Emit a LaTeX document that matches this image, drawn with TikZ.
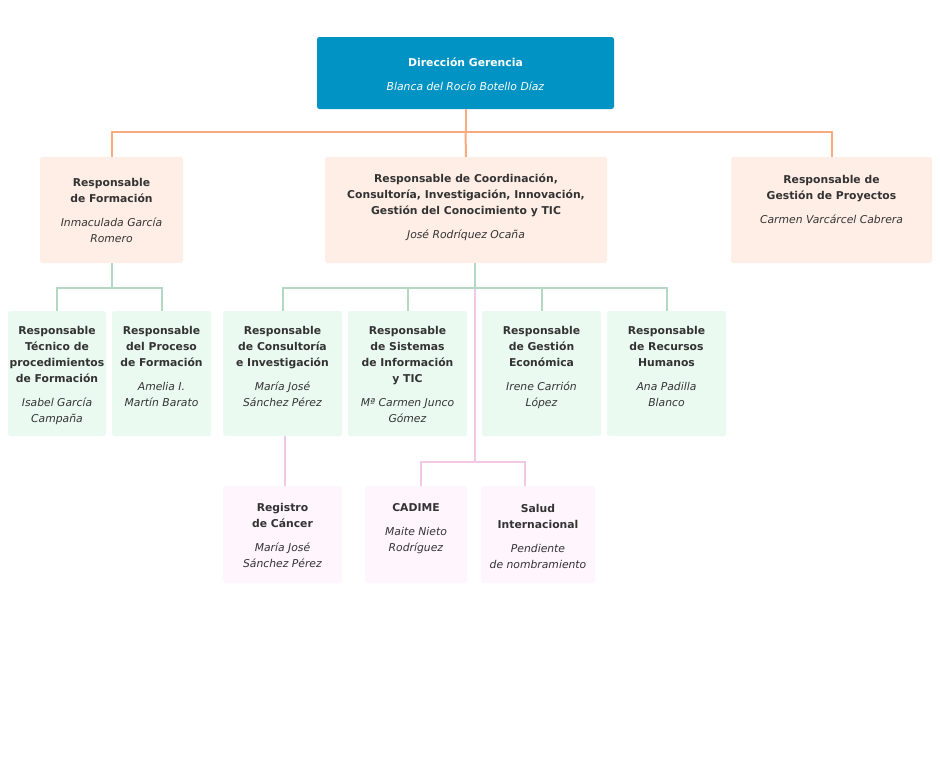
\documentclass[tikz,border=0pt]{standalone}
\usepackage{fontspec}
\setmainfont{DejaVu Sans}
\definecolor{topblue}{RGB}{0,147,196}
\definecolor{peach}{RGB}{255,238,230}
\definecolor{mint}{RGB}{235,250,241}
\definecolor{pinkbg}{RGB}{255,245,253}
\definecolor{oline}{RGB}{250,170,125}
\definecolor{gline}{RGB}{178,216,196}
\definecolor{pline}{RGB}{242,200,232}
\definecolor{txtc}{RGB}{51,51,51}
\tikzset{
  box/.style={draw=none, rounded corners=2.5pt, inner sep=0pt, outer sep=0pt},
  txt/.style={anchor=north, align=center, inner sep=0pt, text=txtc,
    font=\fontsize{10.8}{16}\selectfont},
  orangeline/.style={draw=oline, line width=2pt},
  greenline/.style={draw=gline, line width=2pt},
  pinkline/.style={draw=pline, line width=2pt},
}
\newcommand{\ttl}[1]{\textbf{#1}}
\newcommand{\nm}[1]{\textit{#1}}
\begin{document}
\begin{tikzpicture}[x=1pt,y=-1pt]
\path[use as bounding box, fill=white] (0,0) rectangle (940,772);

% boxes
\node[box, fill=topblue, minimum width=297pt, minimum height=72pt] (top) at (465.5,73) {};
\node[box, fill=peach, minimum width=143pt, minimum height=106pt] (A) at (111.5,210) {};
\node[box, fill=peach, minimum width=282pt, minimum height=106pt] (B) at (466,210) {};
\node[box, fill=peach, minimum width=201pt, minimum height=106pt] (C) at (831.5,210) {};
\node[box, fill=mint, minimum width=98pt, minimum height=125pt] (D1) at (57,373.5) {};
\node[box, fill=mint, minimum width=99pt, minimum height=125pt] (D2) at (161.5,373.5) {};
\node[box, fill=mint, minimum width=119pt, minimum height=125pt] (E1) at (282.5,373.5) {};
\node[box, fill=mint, minimum width=119pt, minimum height=125pt] (E2) at (407.5,373.5) {};
\node[box, fill=mint, minimum width=119pt, minimum height=125pt] (E3) at (541.5,373.5) {};
\node[box, fill=mint, minimum width=119pt, minimum height=125pt] (E4) at (666.5,373.5) {};
\node[box, fill=pinkbg, minimum width=119pt, minimum height=97pt] (F1) at (282.5,534.5) {};
\node[box, fill=pinkbg, minimum width=102pt, minimum height=97pt] (F2) at (416,534.5) {};
\node[box, fill=pinkbg, minimum width=114pt, minimum height=97pt] (F3) at (538,534.5) {};

% junctions
\coordinate (j0) at (465.5,132);
\coordinate (jA) at (111.5,288);
\coordinate (jB) at (475,288);
\coordinate (jP) at (475,462);
\coordinate (xE) at (285,0);
\coordinate (p2) at (421,486);
\coordinate (p3) at (525,486);

% orange connectors
\draw[orangeline] (top.south) -- (j0);
\draw[orangeline] (A.north) |- (j0) -| (C.north);
\draw[orangeline] (j0) -- (B.north);

% pink connectors
\draw[pinkline] (E1.south -| xE) -- (F1.north -| xE);
\draw[pinkline] (jB) -- (jP);
\draw[pinkline] (p2) |- (jP) -| (p3);

% green connectors
\draw[greenline] (A.south) -- (jA);
\draw[greenline] (D1.north) |- (jA) -| (D2.north);
\draw[greenline] (B.south -| jB) -- (jB);
\draw[greenline] (E1.north) |- (jB) -| (E4.north);
\draw[greenline] (E2.north) -- (E2.north |- jB);
\draw[greenline] (E3.north) -- (E3.north |- jB);

% texts
\node[txt, text=white] (topt) at (465.5,58) {\ttl{Dirección Gerencia}\\[8pt]\nm{Blanca del Rocío Botello Díaz}};
\node[txt] (At) at (111.5,178) {\ttl{Responsable}\\\ttl{de Formación}\\[8pt]\nm{Inmaculada García}\\\nm{Romero}};
\node[txt] (Bt) at (466,174) {\ttl{Responsable de Coordinación,}\\\ttl{Consultoría, Investigación, Innovación,}\\\ttl{Gestión del Conocimiento y TIC}\\[8pt]\nm{José Rodríquez Ocaña}};
\node[txt] (Ct) at (831.5,175) {\ttl{Responsable de}\\\ttl{Gestión de Proyectos}\\[8pt]\nm{Carmen Varcárcel Cabrera}};
\node[txt] (D1t) at (57,326) {\ttl{Responsable}\\\ttl{Técnico de}\\\ttl{procedimientos}\\\ttl{de Formación}\\[8pt]\nm{Isabel García}\\\nm{Campaña}};
\node[txt] (D2t) at (161.5,326) {\ttl{Responsable}\\\ttl{del Proceso}\\\ttl{de Formación}\\[8pt]\nm{Amelia I.}\\\nm{Martín Barato}};
\node[txt] (E1t) at (282.5,326) {\ttl{Responsable}\\\ttl{de Consultoría}\\\ttl{e Investigación}\\[8pt]\nm{María José}\\\nm{Sánchez Pérez}};
\node[txt] (E2t) at (407.5,326) {\ttl{Responsable}\\\ttl{de Sistemas}\\\ttl{de Información}\\\ttl{y TIC}\\[8pt]\nm{Mª Carmen Junco}\\\nm{Gómez}};
\node[txt] (E3t) at (541.5,326) {\ttl{Responsable}\\\ttl{de Gestión}\\\ttl{Económica}\\[8pt]\nm{Irene Carrión}\\\nm{López}};
\node[txt] (E4t) at (666.5,326) {\ttl{Responsable}\\\ttl{de Recursos}\\\ttl{Humanos}\\[8pt]\nm{Ana Padilla}\\\nm{Blanco}};
\node[txt] (F1t) at (282.5,503) {\ttl{Registro}\\\ttl{de Cáncer}\\[8pt]\nm{María José}\\\nm{Sánchez Pérez}};
\node[txt] (F2t) at (416,503) {\ttl{CADIME}\\[8pt]\nm{Maite Nieto}\\\nm{Rodríguez}};
\node[txt] (F3t) at (538,504) {\ttl{Salud}\\\ttl{Internacional}\\[8pt]\nm{Pendiente}\\\nm{de nombramiento}};
\end{tikzpicture}
\end{document}
